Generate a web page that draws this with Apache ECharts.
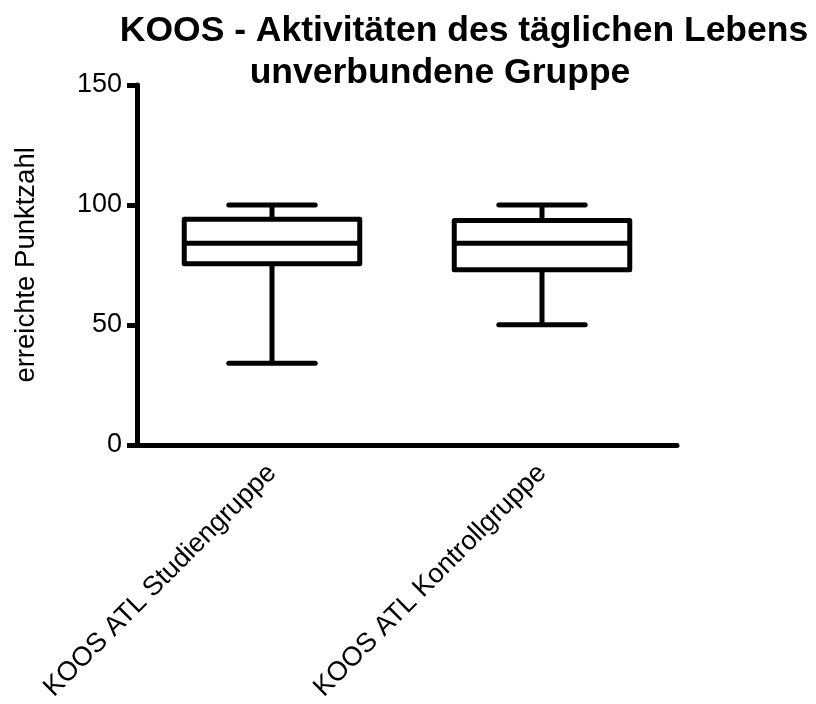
<!DOCTYPE html>
<html>
<head>
<meta charset="utf-8">
<script src="https://cdn.jsdelivr.net/npm/echarts@6/dist/echarts.min.js"></script>
<style>
    html, body { margin: 0; padding: 0; background: #fff; }
    #myChart { width: 816px; height: 704px; }
</style>
</head>
<body>
<div id="myChart"></div>
<script>
    var categories = ['KOOS ATL Studiengruppe', 'KOOS ATL Kontrollgruppe'];
    // min, Q1, median, Q3, max
    var whiskerLow = [34, 50];
    var q1 = [75.5, 73];
    var median = [84, 84];
    var q3 = [94, 93.5];
    var whiskerHigh = [100, 100];
    var yTicks = [0, 50, 150];

    var font = '"Liberation Sans", Arial, sans-serif';

    var data = [];
    for (var i = 0; i < categories.length; i++) {
        data.push([i, whiskerLow[i], q1[i], median[i], q3[i], whiskerHigh[i]]);
    }

    function renderBox (params, api) {
        var idx = api.value(0);
        var band = api.size([1, 0])[0];
        var half = band * 0.325;
        var capHalf = band * 0.16;
        var pLow = api.coord([idx, api.value(1)]);
        var pQ1 = api.coord([idx, api.value(2)]);
        var pMed = api.coord([idx, api.value(3)]);
        var pQ3 = api.coord([idx, api.value(4)]);
        var pHigh = api.coord([idx, api.value(5)]);
        var cx = pMed[0];
        var line = { stroke: '#000', lineWidth: 5, lineCap: 'butt' };
        var cap = { stroke: '#000', lineWidth: 5, lineCap: 'round' };
        return {
            type: 'group',
            children: [
                // whiskers
                { type: 'line', shape: { x1: cx, y1: pQ3[1], x2: cx, y2: pHigh[1] }, style: line },
                { type: 'line', shape: { x1: cx, y1: pQ1[1], x2: cx, y2: pLow[1] }, style: line },
                { type: 'line', shape: { x1: cx - capHalf, y1: pHigh[1], x2: cx + capHalf, y2: pHigh[1] }, style: cap },
                { type: 'line', shape: { x1: cx - capHalf, y1: pLow[1], x2: cx + capHalf, y2: pLow[1] }, style: cap },
                // box
                {
                    type: 'rect',
                    shape: { x: cx - half, y: pQ3[1], width: half * 2, height: pQ1[1] - pQ3[1] },
                    style: { fill: '#fff', stroke: '#000', lineWidth: 5, lineJoin: 'round' }
                },
                { type: 'line', shape: { x1: cx - half, y1: pMed[1], x2: cx + half, y2: pMed[1] }, style: line }
            ]
        };
    }

    var titleStyle = {
        fontFamily: font,
        fontSize: 35.5,
        fontWeight: 'bold',
        color: '#000',
        lineHeight: 40
    };

    var myChart = echarts.init(document.getElementById('myChart'));
    myChart.setOption({
        backgroundColor: '#fff',
        animation: false,
        title: [{
            text: 'KOOS - Aktivitäten des täglichen Lebens',
            left: 459,
            top: 6,
            textAlign: 'center',
            textStyle: titleStyle
        }, {
            text: 'unverbundene Gruppe',
            left: 435,
            top: 48,
            textAlign: 'center',
            textStyle: titleStyle
        }],
        grid: {
            left: 137,
            right: 139,
            top: 85,
            bottom: 259
        },
        xAxis: {
            type: 'category',
            data: categories,
            boundaryGap: true,
            axisLine: { lineStyle: { color: '#000', width: 5 } },
            axisTick: { alignWithLabel: true, length: 10, lineStyle: { color: '#000', width: 5 } },
            axisLabel: {
                rotate: 45,
                margin: 24,
                fontFamily: font,
                fontSize: 27,
                color: '#000'
            },
            splitLine: { show: false }
        },
        yAxis: {
            type: 'value',
            min: yTicks[0],
            max: yTicks[2],
            interval: yTicks[1],
            name: 'erreichte Punktzahl',
            nameLocation: 'middle',
            nameGap: 97,
            nameTextStyle: { fontFamily: font, fontSize: 27.5, color: '#000' },
            axisLine: { show: true, lineStyle: { color: '#000', width: 5 } },
            axisTick: { show: true, length: 10, lineStyle: { color: '#000', width: 5 } },
            axisLabel: { margin: 15, fontFamily: font, fontSize: 27, color: '#000' },
            splitLine: { show: false }
        },
        series: [{
            type: 'custom',
            renderItem: renderBox,
            encode: { x: 0, y: [1, 2, 3, 4, 5] },
            data: data
        }]
    });
</script>
</body>
</html>
